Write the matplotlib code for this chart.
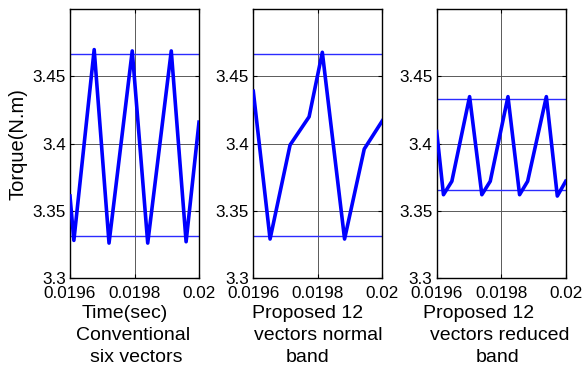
import matplotlib
matplotlib.use('Agg')
import matplotlib.pyplot as plt

plt.rcParams['font.family'] = ['Liberation Sans', 'DejaVu Sans']

# DATA
# conventional six vectors
t_conv = [0.0196, 0.019612, 0.019675, 0.019721, 0.019793, 0.019841, 0.019914, 0.019960, 0.0200]
te_conv = [3.361, 3.328, 3.470, 3.326, 3.469, 3.326, 3.469, 3.327, 3.416]
band_conv = [3.331, 3.4667]

# proposed 12 vectors, normal band
t_norm = [0.0196, 0.019652, 0.019714, 0.019773, 0.019814, 0.019883, 0.019944, 0.0200]
te_norm = [3.439, 3.329, 3.399, 3.420, 3.468, 3.329, 3.396, 3.417]
band_norm = [3.331, 3.4667]

# proposed 12 vectors, reduced band
t_red = [0.0196, 0.019621, 0.019647, 0.019702, 0.019740, 0.019766, 0.019821,
         0.019857, 0.019882, 0.019940, 0.019974, 0.0200]
te_red = [3.409, 3.362, 3.372, 3.435, 3.362, 3.372, 3.435,
          3.362, 3.372, 3.435, 3.361, 3.372]
band_red = [3.3657, 3.433]

x_ticks = [0.0196, 0.0198, 0.0200]
x_ticklabels = ['0.0196', '0.0198', '0.02']
y_ticks = [3.3, 3.35, 3.4, 3.45]
y_ticklabels = ['3.3', '3.35', '3.4', '3.45']

captions = [
    ['Time(sec)', 'Conventional', 'six vectors'],
    ['Proposed 12', 'vectors normal', 'band'],
    ['Proposed 12', 'vectors reduced', 'band'],
]

# LAYOUT (pixels)
W, H = 582, 367
ax_lefts = [70, 253.3, 436.7]
ax_w = 129
ax_bottom, ax_top = 278, 9.3
caption_x = [[125, 133, 136], [308, 318, 308], [479, 499.5, 498]]
caption_y = [313, 335, 357]

fig = plt.figure(figsize=(W / 100, H / 100), dpi=100)

series = [(t_conv, te_conv, band_conv), (t_norm, te_norm, band_norm), (t_red, te_red, band_red)]

for i, (t, te, band) in enumerate(series):
    ax = fig.add_axes([ax_lefts[i] / W, (H - ax_bottom) / H, ax_w / W, (ax_bottom - ax_top) / H])

    # grid
    for yv in y_ticks[1:]:
        ax.axhline(yv, color='0.35', lw=0.7, zorder=1)
    ax.axvline(x_ticks[1], color='0.35', lw=0.7, zorder=1)

    # hysteresis band and torque
    for b in band:
        ax.axhline(b, color='#2b2bff', lw=1.0, zorder=2)
    ax.plot(t, te, color='#0000ff', lw=2.6, zorder=3, solid_joinstyle='round')

    ax.set_xlim(0.0196, 0.0200)
    ax.set_ylim(3.3, 3.5)
    ax.set_xticks(x_ticks)
    ax.set_xticklabels(x_ticklabels)
    ax.set_yticks(y_ticks)
    ax.set_yticklabels(y_ticklabels)
    ax.tick_params(direction='in', length=3, width=0.8, labelsize=12.3,
                   top=True, right=True, pad=3)
    ax.tick_params(axis='x', pad=6)
    for s in ax.spines.values():
        s.set_linewidth(1.0)
        s.set_color('black')

    # captions under each panel
    for j, line in enumerate(captions[i]):
        fig.text(caption_x[i][j] / W, 1 - caption_y[j] / H, line,
                 ha='center', va='center', fontsize=14)

fig.text(18 / W, 1 - 143.7 / H, 'Torque(N.m)', rotation=90,
         ha='center', va='center', fontsize=14.5)

plt.savefig('out.png', dpi=100)
